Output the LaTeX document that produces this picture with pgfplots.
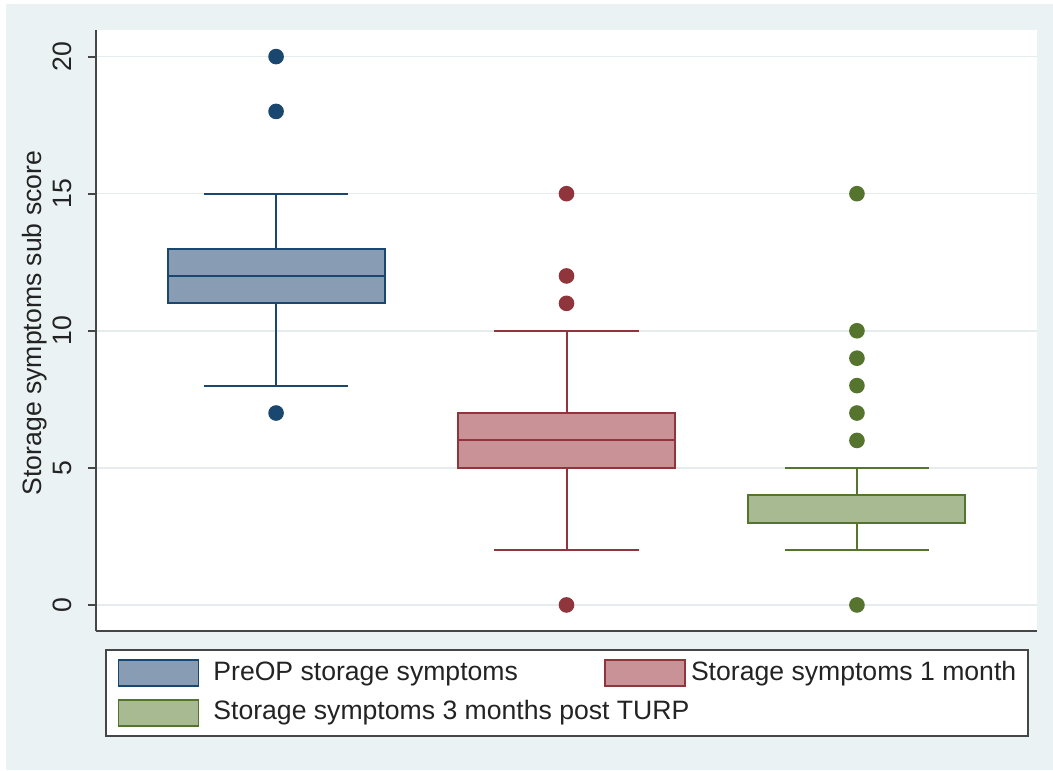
\documentclass[border=0pt]{standalone}
\usepackage{fontspec}
\setmainfont{Liberation Sans}
\usepackage{pgfplots}
\pgfplotsset{compat=1.18}
\usepgfplotslibrary{statistics}
\definecolor{bgc}{RGB}{234,242,243}
\definecolor{axc}{RGB}{70,70,70}
\definecolor{gridc}{RGB}{230,236,238}
\definecolor{txc}{RGB}{35,35,35}
\definecolor{be}{RGB}{26,71,111}
\definecolor{bf}{RGB}{136,156,180}
\definecolor{re}{RGB}{144,53,59}
\definecolor{rf}{RGB}{200,146,151}
\definecolor{ge}{RGB}{85,117,47}
\definecolor{gf}{RGB}{168,186,146}
\newcommand{\ff}{\fontsize{13.3pt}{16pt}\selectfont}
\begin{document}
\begin{tikzpicture}
\fill[white] (-48pt,-69.5pt) rectangle (478.5pt,315.5pt);
\fill[bgc] (-45pt,-69.5pt) rectangle (478.5pt,313.5pt);
\useasboundingbox (-48pt,-69.5pt) rectangle (478.5pt,315.5pt);
\begin{axis}[
  scale only axis, width=470.5pt, height=300.5pt,
  xmin=0.38, xmax=3.62, ymin=-0.95, ymax=20.97,
  axis background/.style={fill=white},
  axis x line*=bottom, axis y line*=left,
  axis line style={draw=axc, line width=1pt, -},
  xtick=\empty,
  ytick={0,5,10,15,20},
  ytick align=outside, major tick length=4pt,
  tick style={draw=axc, line width=1pt},
  ymajorgrids, grid style={draw=gridc, line width=0.8pt},
  font=\ff,
  tick label style={font=\ff, text=txc},
  /pgf/number format/assume math mode=true,
  yticklabel style={xshift=-8pt, rotate=90, anchor=base},
  ylabel={Storage symptoms sub score},
  every axis y label/.style={at={(axis description cs:-0.0574,0.5125)}, rotate=90, anchor=base, font=\ff, text=txc},
  boxplot/draw direction=y,
  legend columns=2, legend cell align=left,
  legend style={at={(axis description cs:0.00956,-0.02995)}, anchor=north west,
    draw=axc, line width=0.8pt, fill=white, inner xsep=6pt, inner ysep=4.8pt,
    row sep=6pt, column sep=0pt,
    nodes={inner sep=0pt, text height=10pt, text depth=3pt, text=txc}, font=\ff},
]
\addplot[forget plot, draw=be, line width=1pt, fill=bf, mark=*, mark size=3.4pt,
  mark options={fill=be, draw=be, solid},
  boxplot prepared={draw position=1, lower whisker=8, lower quartile=11, median=12,
    upper quartile=13, upper whisker=15, box extend=0.747, whisker extend=0.496}]
  table[row sep=\\, y index=0] {y\\ 20\\ 18\\ 7\\};
\addplot[forget plot, draw=re, line width=1pt, fill=rf, mark=*, mark size=3.4pt,
  mark options={fill=re, draw=re, solid},
  boxplot prepared={draw position=2, lower whisker=2, lower quartile=5, median=6,
    upper quartile=7, upper whisker=10, box extend=0.747, whisker extend=0.496}]
  table[row sep=\\, y index=0] {y\\ 15\\ 12\\ 11\\ 0\\};
\addplot[forget plot, draw=ge, line width=1pt, fill=gf, mark=*, mark size=3.4pt,
  mark options={fill=ge, draw=ge, solid},
  boxplot prepared={draw position=3, lower whisker=2, lower quartile=3, median=4,
    upper quartile=4, upper whisker=5, box extend=0.747, whisker extend=0.496}]
  table[row sep=\\, y index=0] {y\\ 15\\ 10\\ 9\\ 8\\ 7\\ 6\\ 0\\};
\addlegendimage{legend image code/.code={\draw[draw=be, fill=bf, line width=0.8pt] (0pt,-6.5pt) rectangle (40pt,6.5pt);}}
\addlegendentry{\hspace{7pt}\makebox[195.5pt][l]{PreOP storage symptoms}}
\addlegendimage{legend image code/.code={\draw[draw=re, fill=rf, line width=0.8pt] (0pt,-6.5pt) rectangle (40pt,6.5pt);}}
\addlegendentry{\hspace{2.5pt}Storage symptoms 1 month}
\addlegendimage{legend image code/.code={\draw[draw=ge, fill=gf, line width=0.8pt] (0pt,-6.5pt) rectangle (40pt,6.5pt);}}
\addlegendentry{\hspace{7pt}\makebox[195.5pt][l]{Storage symptoms 3 months post TURP}}
\end{axis}
\end{tikzpicture}
\end{document}
